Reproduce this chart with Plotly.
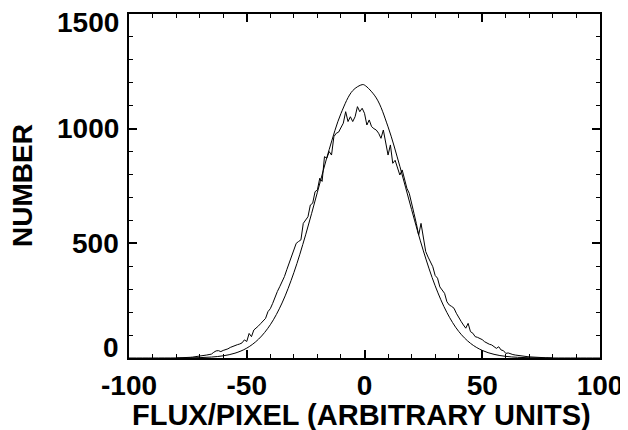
import plotly.graph_objects as go

# Smooth Gaussian fit curve
fit_x = [-100, -90, -80, -75, -70, -65, -60, -55, -50, -45, -40, -35, -30, -25, -20, -15,
         -10, -5, -1, 0, 5, 10, 15, 20, 25, 30, 35, 40, 45, 50, 55, 60, 65, 70, 75, 80, 90, 100]
fit_y = [0, 0, 0.2, 0.6, 1.6, 4.1, 9.6, 21, 43, 82, 145, 240, 372, 537, 723, 909,
         1066, 1166, 1192, 1190, 1134, 1008, 836, 647, 467, 315, 198, 116, 64, 33, 16, 7, 3, 1.1, 0.4, 0.1, 0, 0]

# Measured histogram (flux per pixel)
hist_x = list(range(-80, 81))
hist_y = [0, 0, 1, 1, 2, 2, 3, 4, 5, 6,
          8, 9, 11, 13, 15, 17, 25, 31, 32, 28,
          33, 35, 40, 46, 50, 57, 58, 61, 66, 79,
          72, 107, 93, 122, 130, 140, 151, 160, 173, 202,
          215, 238, 267, 290, 311, 330, 355, 385, 413, 440,
          470, 500, 508, 515, 587, 600, 616, 667, 675, 725,
          733, 784, 770, 878, 871, 900, 885, 965, 980, 985,
          1002, 1024, 1074, 1031, 1052, 1031, 1052, 1096, 1074, 1089,
          1067, 1016, 1038, 1009, 1000, 994, 980, 958, 994, 936,
          885, 929, 849, 862, 827, 798, 820, 784, 740, 718,
          667, 631, 587, 536, 587, 515, 464, 440, 420, 398,
          360, 348, 310, 297, 282, 245, 231, 225, 217, 195,
          180, 160, 144, 130, 151, 115, 108, 93, 90, 86,
          80, 71, 65, 60, 57, 50, 42, 49, 35, 32,
          20, 22, 17, 15, 13, 11, 10, 8, 7, 6,
          5, 4, 4, 3, 2, 2, 1, 1, 1, 0, 0]

x_ticks = [-100, -50, 0, 50, 100]
y_ticks = [0, 500, 1000, 1500]
y_tick_labels = ["0", "500", "1000", "1500"]
x_title = "FLUX/PIXEL (ARBITRARY UNITS)"
y_title = "NUMBER"

FONT = "Liberation Sans, Arial, sans-serif"

fig = go.Figure()
fig.add_trace(go.Scatter(x=hist_x, y=hist_y, mode="lines",
                         line=dict(color="black", width=1), showlegend=False))
fig.add_trace(go.Scatter(x=fit_x, y=fit_y, mode="lines", line_shape="spline",
                         line=dict(color="black", width=1), showlegend=False))

axis_common = dict(
    showgrid=False, zeroline=False, showline=True, linecolor="black", linewidth=1.5,
    mirror="ticks", ticks="inside", ticklen=8, tickwidth=1.5, tickcolor="black",
)

fig.update_xaxes(
    range=[-100, 100], tickvals=x_ticks, ticktext=["<b>%d</b>" % v for v in x_ticks],
    minor=dict(dtick=10, ticks="inside", ticklen=4, tickwidth=1.2, tickcolor="black"),
    tickfont=dict(family=FONT, size=28, color="black"),
    ticklabelstandoff=2,
    **axis_common,
)
fig.update_yaxes(
    range=[0, 1500], tickvals=y_ticks, showticklabels=False,
    minor=dict(dtick=100, ticks="inside", ticklen=4, tickwidth=1.2, tickcolor="black"),
    **axis_common,
)

shifts = {0: 11, 500: 0, 1000: 0, 1500: -8}
for v, t in zip(y_ticks, y_tick_labels):
    fig.add_annotation(x=0, xref="paper", y=v, yref="y", text="<b>" + t + "</b>",
                       showarrow=False, xanchor="right", yanchor="middle",
                       xshift=-9, yshift=shifts[v], borderpad=0,
                       font=dict(family=FONT, size=28, color="black"))

fig.add_annotation(x=0.5, xref="paper", y=0, yref="paper", text="<b>" + x_title + "</b>",
                   showarrow=False, xanchor="center", yanchor="middle", yshift=-57, xshift=-3,
                   font=dict(family=FONT, size=29, color="black"))
fig.add_annotation(x=0, xref="paper", y=0.5, yref="paper", text="<b>" + y_title + "</b>",
                   showarrow=False, xanchor="center", yanchor="middle", xshift=-107,
                   textangle=-90, borderpad=0, font=dict(family=FONT, size=28, color="black"))

# page body adds an 8px margin; compensate so the plot lands where the reference has it
fig.update_layout(
    width=620, height=422,
    margin=dict(l=121, r=28, t=6, b=72, autoexpand=False),
    paper_bgcolor="white", plot_bgcolor="white",
)

fig.write_html("out.html")
